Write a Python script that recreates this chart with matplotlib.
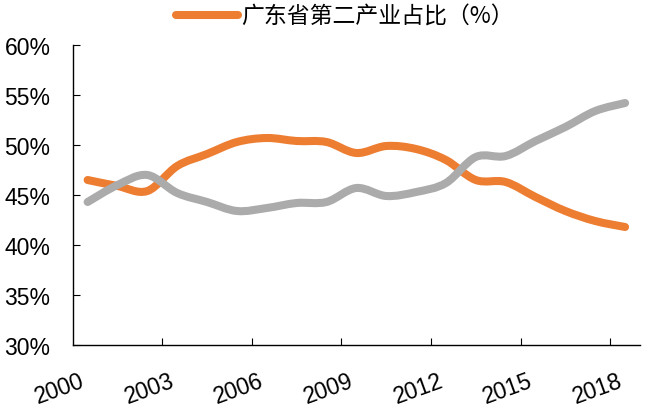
import matplotlib
matplotlib.use("Agg")
import matplotlib.pyplot as plt
from matplotlib.path import Path
from matplotlib.patches import PathPatch
from matplotlib.lines import Line2D
import numpy as np

years = list(range(2000, 2019))
secondary = [46.5, 45.9, 45.4, 47.9, 49.1, 50.3, 50.7, 50.4, 50.3, 49.2,
             49.9, 49.6, 48.5, 46.5, 46.3, 44.8, 43.4, 42.4, 41.8]
tertiary = [44.3, 46.0, 47.0, 45.2, 44.3, 43.4, 43.7, 44.2, 44.3, 45.7,
            44.9, 45.3, 46.2, 48.8, 48.9, 50.4, 51.8, 53.4, 54.2]
tick_years = [2000, 2003, 2006, 2009, 2012, 2015, 2018]
yticks = [30, 35, 40, 45, 50, 55, 60]
legend_label = "广东省第二产业占比（%）"

ORANGE = "#ED7D31"
GRAY = "#ABABAB"

plt.rcParams['font.family'] = ['Liberation Sans', 'Noto Sans CJK SC', 'DejaVu Sans']

fig = plt.figure(figsize=(6.46, 4.14), dpi=100)
ax = fig.add_axes([72.7/646, 1-346/414, (640-72.7)/646, 300/414])

def smooth_path(xs, ys):
    pts = np.column_stack([xs, ys]).astype(float)
    n = len(pts)
    verts = [pts[0]]
    codes = [Path.MOVETO]
    for i in range(n - 1):
        p0 = pts[i - 1] if i > 0 else pts[i]
        p1 = pts[i]
        p2 = pts[i + 1]
        p3 = pts[i + 2] if i + 2 < n else pts[i + 1]
        c1 = p1 + (p2 - p0) / 6.0
        c2 = p2 - (p3 - p1) / 6.0
        verts += [c1, c2, p2]
        codes += [Path.CURVE4] * 3
    return Path(verts, codes)

x = np.arange(len(years))
for vals, col, z in [(secondary, ORANGE, 2), (tertiary, GRAY, 3)]:
    patch = PathPatch(smooth_path(x, vals), facecolor='none', edgecolor=col,
                      lw=5.8, capstyle='round', joinstyle='round', zorder=z)
    ax.add_patch(patch)

ax.set_xlim(-0.5, len(years) - 0.5)
ax.set_ylim(30, 60)

ax.set_yticks(yticks)
ax.set_yticklabels([f"{v}%" for v in yticks])

# ticks between categories every 3, labels at category centers
ax.set_xticks([years.index(y) - 0.5 for y in tick_years[1:]])
ax.set_xticklabels([])
ax.set_xticks([years.index(y) for y in tick_years], minor=True)
ax.set_xticklabels([str(y) for y in tick_years], minor=True, rotation=20,
                   ha='right', va='top')

ax.tick_params(axis='y', direction='in', length=5, width=0.8, labelsize=16.5, pad=16)
ax.tick_params(axis='x', which='major', direction='in', length=5, width=0.8)
ax.tick_params(axis='x', which='minor', length=0, labelsize=16.5, pad=17)

for s in ['top', 'right']:
    ax.spines[s].set_visible(False)
for s in ['left', 'bottom']:
    ax.spines[s].set_linewidth(1.0)
    ax.spines[s].set_color('black')

handle = Line2D([], [], color=ORANGE, lw=5.8, solid_capstyle='round')
fig.legend([handle], [legend_label], loc='center', bbox_to_anchor=(0.534, 0.958),
           frameon=False, handlelength=2.7, handletextpad=0.15,
           borderpad=0, prop={'family': ['Noto Sans CJK SC', 'DejaVu Sans'], 'size': 16.5})

fig.savefig("out.png", dpi=100)
